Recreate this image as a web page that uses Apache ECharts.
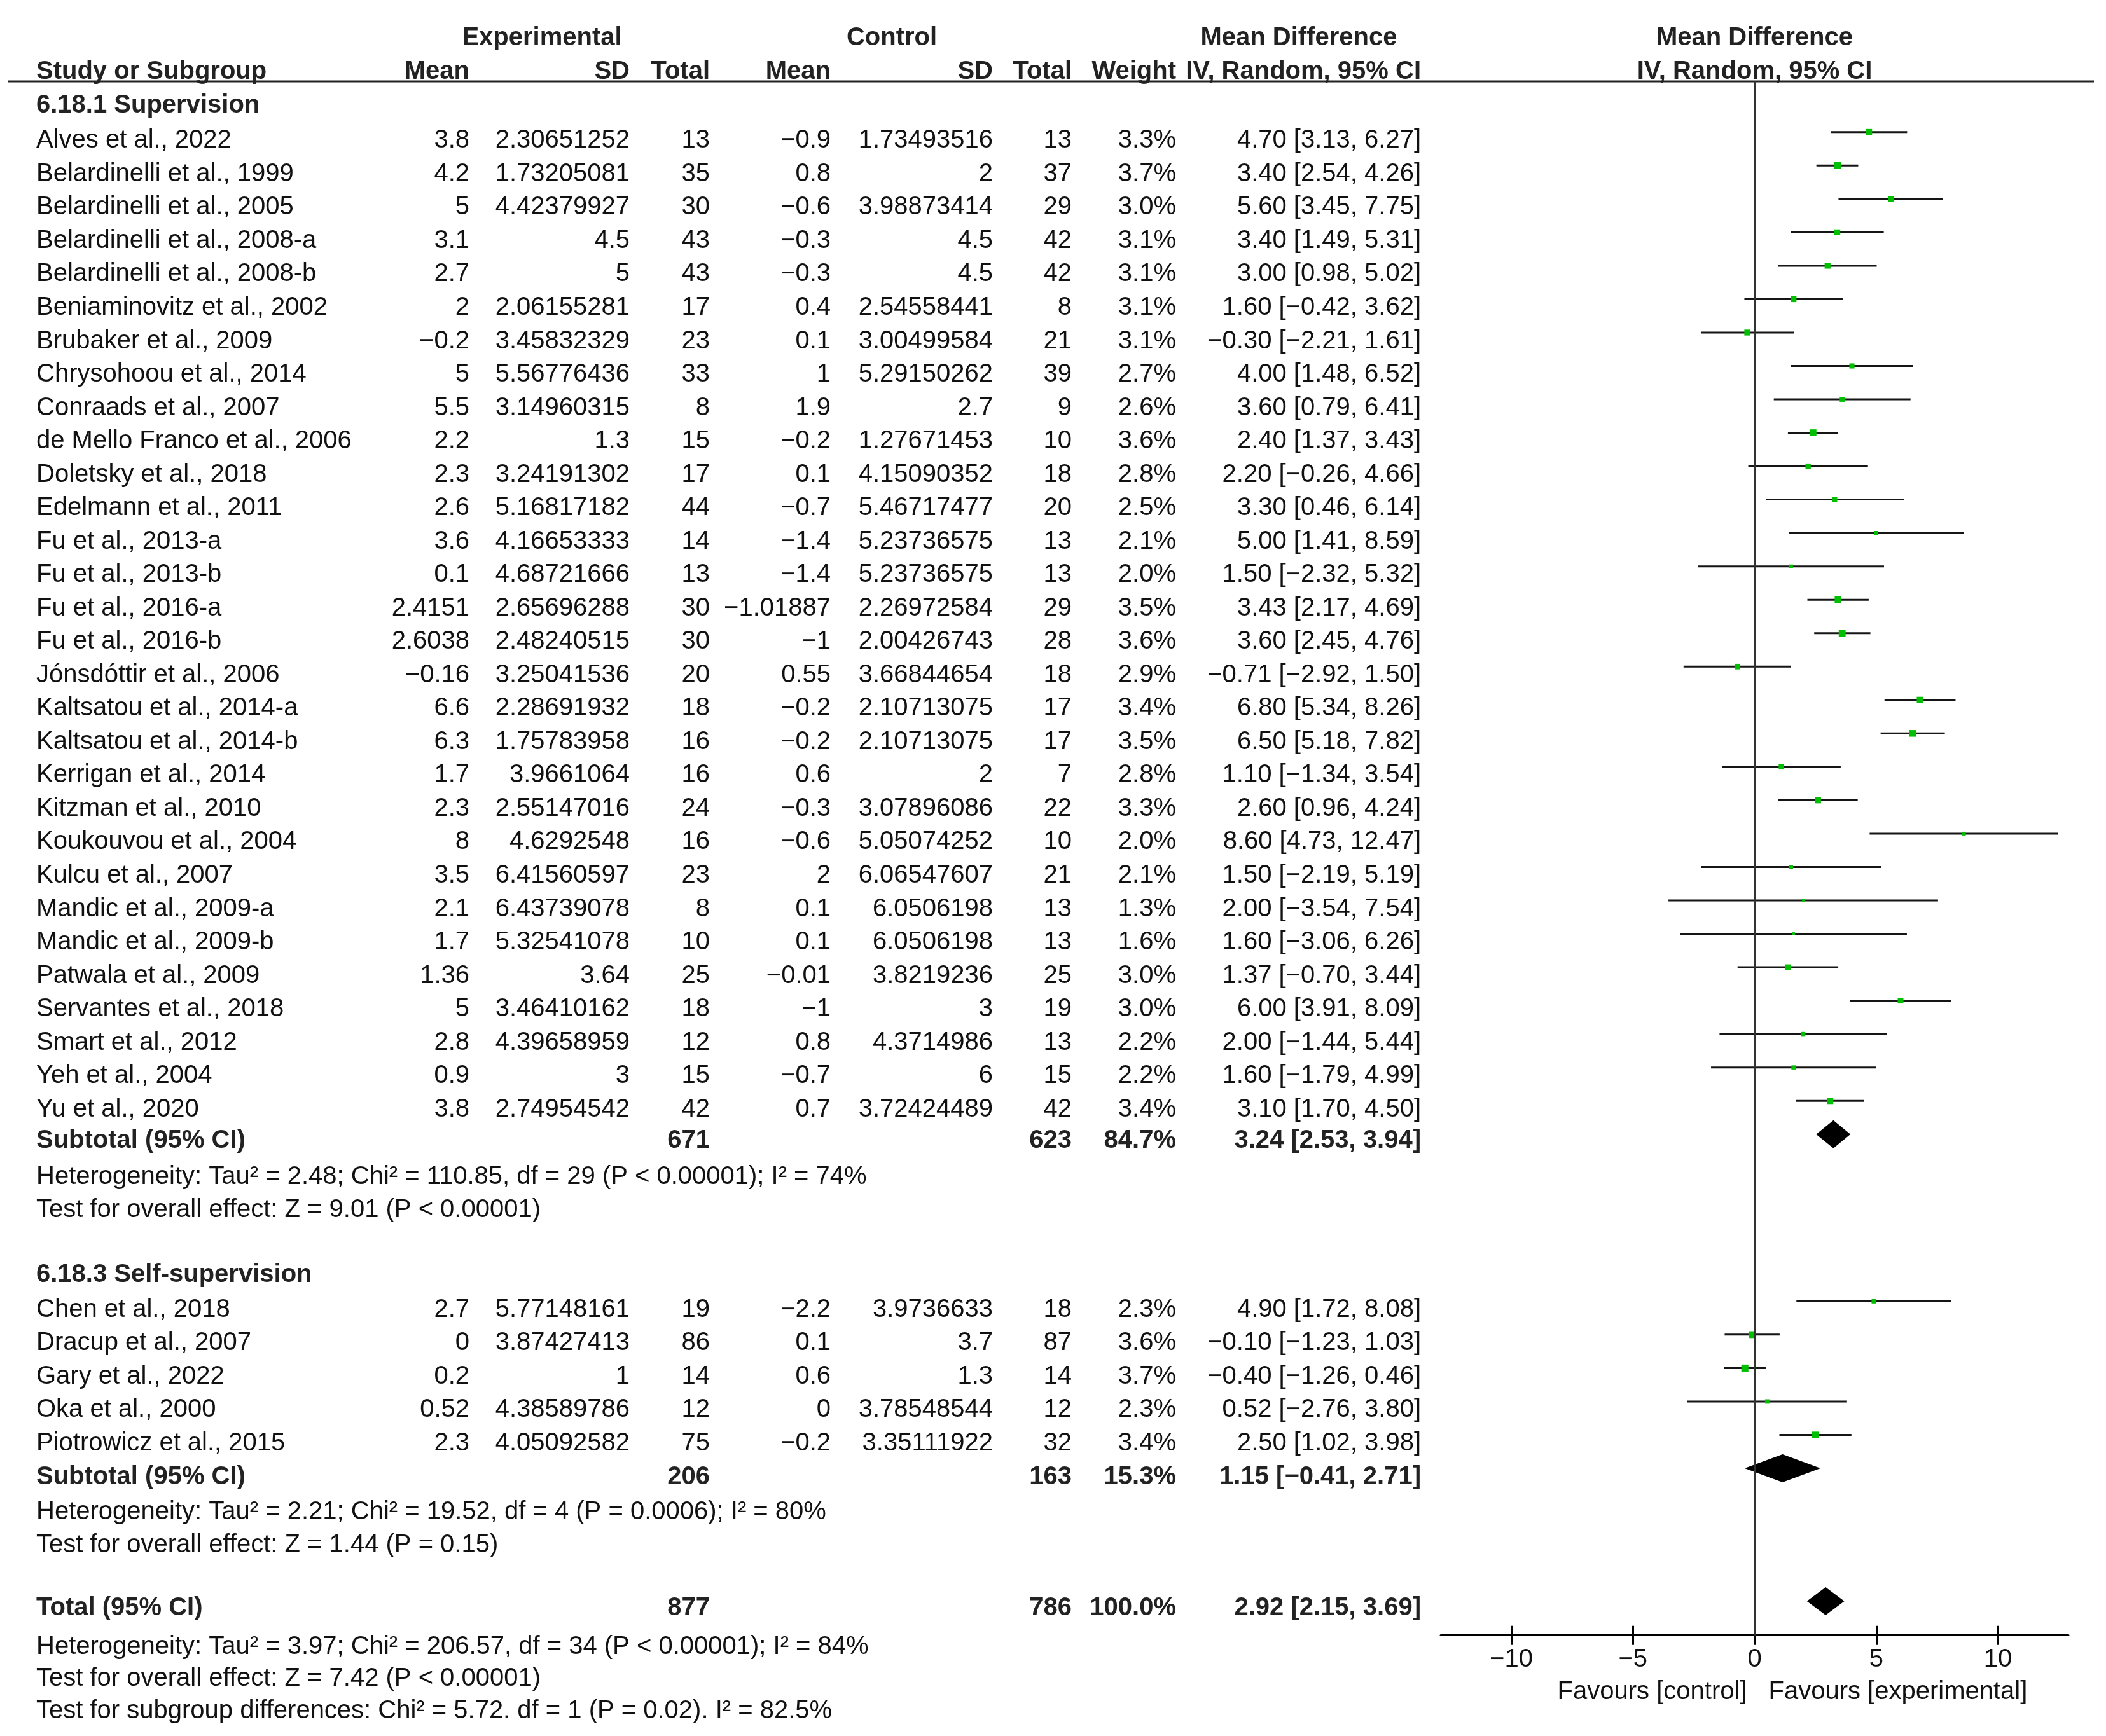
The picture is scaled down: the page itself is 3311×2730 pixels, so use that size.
<!DOCTYPE html>
<html><head><meta charset="utf-8">
<script src="https://cdn.jsdelivr.net/npm/echarts@6/dist/echarts.min.js"></script>
<style>html,body{margin:0;padding:0;background:#fff}#c{width:3311px;height:2730px}</style>
</head><body><div id="c"></div>
<script>
// ---------------- DATA ----------------
const groupTitles = ['6.18.1 Supervision', '6.18.3 Self-supervision'];

const names1 = ['Alves et al., 2022','Belardinelli et al., 1999','Belardinelli et al., 2005','Belardinelli et al., 2008-a','Belardinelli et al., 2008-b','Beniaminovitz et al., 2002','Brubaker et al., 2009','Chrysohoou et al., 2014','Conraads et al., 2007','de Mello Franco et al., 2006','Doletsky et al., 2018','Edelmann et al., 2011','Fu et al., 2013-a','Fu et al., 2013-b','Fu et al., 2016-a','Fu et al., 2016-b','Jónsdóttir et al., 2006','Kaltsatou et al., 2014-a','Kaltsatou et al., 2014-b','Kerrigan et al., 2014','Kitzman et al., 2010','Koukouvou et al., 2004','Kulcu et al., 2007','Mandic et al., 2009-a','Mandic et al., 2009-b','Patwala et al., 2009','Servantes et al., 2018','Smart et al., 2012','Yeh et al., 2004','Yu et al., 2020'];
const expMean1 = [3.8,4.2,5,3.1,2.7,2,-0.2,5,5.5,2.2,2.3,2.6,3.6,0.1,2.4151,2.6038,-0.16,6.6,6.3,1.7,2.3,8,3.5,2.1,1.7,1.36,5,2.8,0.9,3.8];
const expSD1 = [2.30651252,1.73205081,4.42379927,4.5,5,2.06155281,3.45832329,5.56776436,3.14960315,1.3,3.24191302,5.16817182,4.16653333,4.68721666,2.65696288,2.48240515,3.25041536,2.28691932,1.75783958,3.9661064,2.55147016,4.6292548,6.41560597,6.43739078,5.32541078,3.64,3.46410162,4.39658959,3,2.74954542];
const expN1 = [13,35,30,43,43,17,23,33,8,15,17,44,14,13,30,30,20,18,16,16,24,16,23,8,10,25,18,12,15,42];
const ctlMean1 = [-0.9,0.8,-0.6,-0.3,-0.3,0.4,0.1,1,1.9,-0.2,0.1,-0.7,-1.4,-1.4,-1.01887,-1,0.55,-0.2,-0.2,0.6,-0.3,-0.6,2,0.1,0.1,-0.01,-1,0.8,-0.7,0.7];
const ctlSD1 = [1.73493516,2,3.98873414,4.5,4.5,2.54558441,3.00499584,5.29150262,2.7,1.27671453,4.15090352,5.46717477,5.23736575,5.23736575,2.26972584,2.00426743,3.66844654,2.10713075,2.10713075,2,3.07896086,5.05074252,6.06547607,6.0506198,6.0506198,3.8219236,3,4.3714986,6,3.72424489];
const ctlN1 = [13,37,29,42,42,8,21,39,9,10,18,20,13,13,29,28,18,17,17,7,22,10,21,13,13,25,19,13,15,42];
const weight1 = [3.3,3.7,3.0,3.1,3.1,3.1,3.1,2.7,2.6,3.6,2.8,2.5,2.1,2.0,3.5,3.6,2.9,3.4,3.5,2.8,3.3,2.0,2.1,1.3,1.6,3.0,3.0,2.2,2.2,3.4];
const md1 = [4.70,3.40,5.60,3.40,3.00,1.60,-0.30,4.00,3.60,2.40,2.20,3.30,5.00,1.50,3.43,3.60,-0.71,6.80,6.50,1.10,2.60,8.60,1.50,2.00,1.60,1.37,6.00,2.00,1.60,3.10];
const lo1 = [3.13,2.54,3.45,1.49,0.98,-0.42,-2.21,1.48,0.79,1.37,-0.26,0.46,1.41,-2.32,2.17,2.45,-2.92,5.34,5.18,-1.34,0.96,4.73,-2.19,-3.54,-3.06,-0.70,3.91,-1.44,-1.79,1.70];
const hi1 = [6.27,4.26,7.75,5.31,5.02,3.62,1.61,6.52,6.41,3.43,4.66,6.14,8.59,5.32,4.69,4.76,1.50,8.26,7.82,3.54,4.24,12.47,5.19,7.54,6.26,3.44,8.09,5.44,4.99,4.50];

const names2 = ['Chen et al., 2018','Dracup et al., 2007','Gary et al., 2022','Oka et al., 2000','Piotrowicz et al., 2015'];
const expMean2 = [2.7,0,0.2,0.52,2.3];
const expSD2 = [5.77148161,3.87427413,1,4.38589786,4.05092582];
const expN2 = [19,86,14,12,75];
const ctlMean2 = [-2.2,0.1,0.6,0,-0.2];
const ctlSD2 = [3.9736633,3.7,1.3,3.78548544,3.35111922];
const ctlN2 = [18,87,14,12,32];
const weight2 = [2.3,3.6,3.7,2.3,3.4];
const md2 = [4.90,-0.10,-0.40,0.52,2.50];
const lo2 = [1.72,-1.23,-1.26,-2.76,1.02];
const hi2 = [8.08,1.03,0.46,3.80,3.98];

const pooledLabels = ['Subtotal (95% CI)','Subtotal (95% CI)','Total (95% CI)'];
const pooledExpN = [671,206,877];
const pooledCtlN = [623,163,786];
const pooledWeight = [84.7,15.3,100.0];
const pooledMD = [3.24,1.15,2.92];
const pooledLo = [2.53,-0.41,2.15];
const pooledHi = [3.94,2.71,3.69];

const hetTexts = [
  'Heterogeneity: Tau² = 2.48; Chi² = 110.85, df = 29 (P < 0.00001); I² = 74%',
  'Heterogeneity: Tau² = 2.21; Chi² = 19.52, df = 4 (P = 0.0006); I² = 80%',
  'Heterogeneity: Tau² = 3.97; Chi² = 206.57, df = 34 (P < 0.00001); I² = 84%'
];
const effectTexts = [
  'Test for overall effect: Z = 9.01 (P < 0.00001)',
  'Test for overall effect: Z = 1.44 (P = 0.15)',
  'Test for overall effect: Z = 7.42 (P < 0.00001)'
];
const subgroupText = 'Test for subgroup differences: Chi² = 5.72. df = 1 (P = 0.02). I² = 82.5%';

const headTop = ['Experimental','Control','Mean Difference','Mean Difference'];
const headCols = ['Study or Subgroup','Mean','SD','Total','Mean','SD','Total','Weight','IV, Random, 95% CI','IV, Random, 95% CI'];
const xTicks = [-10,-5,0,5,10];
const favours = ['Favours [control]','Favours [experimental]'];

// ---------------- LAYOUT ----------------
const W = 3311, H = 2730;
const ROW0 = 218.3, ROWH = 52.53;
const R_TOP = -1.72, R_AXIS = 44.80;
const FONT = '"Liberation Sans", Arial, Helvetica, sans-serif';
const FS = 40;
const TEXT_DY = 3;
const FOREST_DY = -0.2;
const SQ_K = 3.0;
const DIAM_HALF = 22;
const X_MIN = -12.9, X_MAX = 12.9;
const PX_PER_UNIT = 38.25;
const ZERO_X = 2758.5;

const col = {
  name:{x:57,a:'left'}, eMean:{x:738,a:'right'}, eSD:{x:990,a:'right'}, eN:{x:1116,a:'right'},
  cMean:{x:1306,a:'right'}, cSD:{x:1561,a:'right'}, cN:{x:1685,a:'right'}, w:{x:1849,a:'right'}, ci:{x:2234,a:'right'}
};
const ROWS = {
  head1:-3.07, head2:-2.06, grp1:-1.05, sub1:29.93, het1:31.03, eff1:32.02,
  grp2:33.95, start2:35, sub2:40.0, het2:41.05, eff2:42.05,
  tot:43.94, het3:45.09, eff3:46.04, sgd:47.01, fav:46.44
};
const DIAM_ROWS = [29.8, 39.8, 43.78];

const num = v => String(v).replace('-', '−');
const f2 = v => v.toFixed(2).replace('-', '−');
const ci = (m,l,h) => `${f2(m)} [${f2(l)}, ${f2(h)}]`;

// ---------------- TEXT ITEMS ----------------
const texts = [];
function T(c, row, text, bold){ texts.push({x:c.x, row, text:String(text), align:c.a, bold:!!bold}); }
function Tc(x, row, text, bold){ texts.push({x, row, text, align:'center', bold:!!bold}); }

Tc(852, ROWS.head1, headTop[0], true);
Tc(1402, ROWS.head1, headTop[1], true);
Tc(2042, ROWS.head1, headTop[2], true);
const hc = [col.name,col.eMean,col.eSD,col.eN,col.cMean,col.cSD,col.cN,col.w,col.ci];
hc.forEach((c,i)=>T(c, ROWS.head2, headCols[i], true));

function studyRows(startRow, names, em, es, en, cm, cs, cn, w, m, l, h){
  names.forEach((nm,i)=>{
    const r = startRow + i;
    T(col.name, r, nm); T(col.eMean, r, num(em[i])); T(col.eSD, r, num(es[i])); T(col.eN, r, en[i]);
    T(col.cMean, r, num(cm[i])); T(col.cSD, r, num(cs[i])); T(col.cN, r, cn[i]);
    T(col.w, r, w[i].toFixed(1)+'%'); T(col.ci, r, ci(m[i],l[i],h[i]));
  });
}
function pooledRow(k, r){
  T(col.name, r, pooledLabels[k], true); T(col.eN, r, pooledExpN[k], true); T(col.cN, r, pooledCtlN[k], true);
  T(col.w, r, pooledWeight[k].toFixed(1)+'%', true); T(col.ci, r, ci(pooledMD[k],pooledLo[k],pooledHi[k]), true);
}
T(col.name, ROWS.grp1, groupTitles[0], true);
studyRows(0, names1, expMean1, expSD1, expN1, ctlMean1, ctlSD1, ctlN1, weight1, md1, lo1, hi1);
pooledRow(0, ROWS.sub1);
T(col.name, ROWS.het1, hetTexts[0]); T(col.name, ROWS.eff1, effectTexts[0]);
T(col.name, ROWS.grp2, groupTitles[1], true);
studyRows(ROWS.start2, names2, expMean2, expSD2, expN2, ctlMean2, ctlSD2, ctlN2, weight2, md2, lo2, hi2);
pooledRow(1, ROWS.sub2);
T(col.name, ROWS.het2, hetTexts[1]); T(col.name, ROWS.eff2, effectTexts[1]);
pooledRow(2, ROWS.tot);
T(col.name, ROWS.het3, hetTexts[2]); T(col.name, ROWS.eff3, effectTexts[2]);
T(col.name, ROWS.sgd, subgroupText);

const ftexts = [
  {v:0, row:ROWS.head1, text:headTop[3], align:'center', dx:0, bold:true},
  {v:0, row:ROWS.head2, text:headCols[9], align:'center', dx:0, bold:true},
  {v:0, row:ROWS.fav, text:favours[0], align:'right', dx:-12, bold:false},
  {v:0, row:ROWS.fav, text:favours[1], align:'left', dx:22, bold:false}
];

// ---------------- SERIES DATA ----------------
const studyData = [];
names1.forEach((n,i)=>studyData.push([md1[i], i, lo1[i], hi1[i], weight1[i]]));
names2.forEach((n,i)=>studyData.push([md2[i], ROWS.start2+i, lo2[i], hi2[i], weight2[i]]));
const diamondData = pooledMD.map((m,k)=>[m, DIAM_ROWS[k], pooledLo[k], pooledHi[k]]);

const font = b => `${b?'bold ':''}${FS}px ${FONT}`;
const textColor = b => b ? '#222' : '#111';

const gridTop = ROW0 + ROWH*R_TOP;
const gridH = ROWH*(R_AXIS - R_TOP);
const gridLeft = ZERO_X + X_MIN*PX_PER_UNIT;
const gridW = (X_MAX - X_MIN)*PX_PER_UNIT;

const chart = echarts.init(document.getElementById('c'), null, {renderer:'canvas', width:W, height:H});
chart.setOption({
  backgroundColor:'#ffffff',
  animation:false,
  grid:[
    {left:gridLeft, top:gridTop, width:gridW, height:gridH, containLabel:false},
    {left:0, top:0, width:W, height:H, containLabel:false}
  ],
  xAxis:[
    {gridIndex:0, type:'value', position:'bottom', min:X_MIN, max:X_MAX,
     axisLine:{show:true, onZero:false, lineStyle:{color:'#000', width:3}},
     axisTick:{show:true, inside:false, length:15, customValues:xTicks, lineStyle:{color:'#000', width:3}},
     axisLabel:{show:true, customValues:xTicks, margin:18, fontSize:FS, fontFamily:FONT, color:'#111',
       formatter:v=>num(v)},
     splitLine:{show:false}},
    {gridIndex:0, type:'value', position:'bottom', min:X_MIN, max:X_MAX,
     axisLine:{show:false, onZero:false},
     axisTick:{show:true, inside:true, length:15, customValues:xTicks, lineStyle:{color:'#000', width:3}},
     axisLabel:{show:false}, splitLine:{show:false}},
    {gridIndex:1, type:'value', min:0, max:W, show:false}
  ],
  yAxis:[
    {gridIndex:0, type:'value', inverse:true, min:R_TOP, max:R_AXIS, show:false},
    {gridIndex:1, type:'value', inverse:true, min:-ROW0/ROWH, max:(H-ROW0)/ROWH, show:false}
  ],
  series:[
    {
      type:'custom', name:'studies', xAxisIndex:0, yAxisIndex:0, clip:false, silent:true,
      encode:{x:[0,2,3], y:1},
      data:studyData,
      renderItem(params, api){
        const y = api.value(1) + FOREST_DY;
        const a = api.coord([api.value(2), y]);
        const b = api.coord([api.value(3), y]);
        const c = api.coord([api.value(0), y]);
        const s = api.value(4)*SQ_K;
        return {type:'group', children:[
          {type:'line', shape:{x1:a[0], y1:a[1], x2:b[0], y2:b[1]}, style:{stroke:'#151515', lineWidth:3}},
          {type:'rect', shape:{x:c[0]-s/2, y:c[1]-s/2, width:s, height:s}, style:{fill:'#00bf00'}}
        ]};
      },
      markLine:{silent:true, symbol:['none','none'], label:{show:false},
        lineStyle:{color:'#333', width:3, type:'solid'}, data:[{xAxis:0}]}
    },
    {
      type:'custom', name:'pooled', xAxisIndex:0, yAxisIndex:0, clip:false, silent:true,
      encode:{x:[0,2,3], y:1},
      data:diamondData,
      renderItem(params, api){
        const y = api.value(1);
        const l = api.coord([api.value(2), y]);
        const r = api.coord([api.value(3), y]);
        const m = api.coord([api.value(0), y]);
        return {type:'polygon', shape:{points:[[l[0],l[1]],[m[0],m[1]-DIAM_HALF],[r[0],r[1]],[m[0],m[1]+DIAM_HALF]]},
          style:{fill:'#000'}};
      }
    },
    {
      type:'custom', name:'forestText', xAxisIndex:0, yAxisIndex:0, clip:false, silent:true,
      data:ftexts.map(t=>[t.v, t.row]),
      renderItem(params, api){
        const t = ftexts[params.dataIndex];
        const p = api.coord([api.value(0), api.value(1)]);
        return {type:'text', x:p[0]+t.dx, y:p[1]+TEXT_DY,
          style:{text:t.text, font:font(t.bold), fill:textColor(t.bold), align:t.align, verticalAlign:'middle'}};
      }
    },
    {
      type:'custom', name:'table', xAxisIndex:2, yAxisIndex:1, clip:false, silent:true,
      data:texts.map(t=>[t.x, t.row]),
      renderItem(params, api){
        const t = texts[params.dataIndex];
        const p = api.coord([api.value(0), api.value(1)]);
        return {type:'text', x:p[0], y:p[1]+TEXT_DY,
          style:{text:t.text, font:font(t.bold), fill:textColor(t.bold), align:t.align, verticalAlign:'middle'}};
      }
    },
    {
      type:'custom', name:'rule', xAxisIndex:2, yAxisIndex:1, clip:false, silent:true,
      data:[[12, R_TOP, 3292]],
      renderItem(params, api){
        const a = api.coord([api.value(0), api.value(1)]);
        const b = api.coord([api.value(2), api.value(1)]);
        return {type:'line', shape:{x1:a[0], y1:a[1], x2:b[0], y2:b[1]}, style:{stroke:'#222', lineWidth:3}};
      }
    }
  ]
});
</script>
</body></html>
